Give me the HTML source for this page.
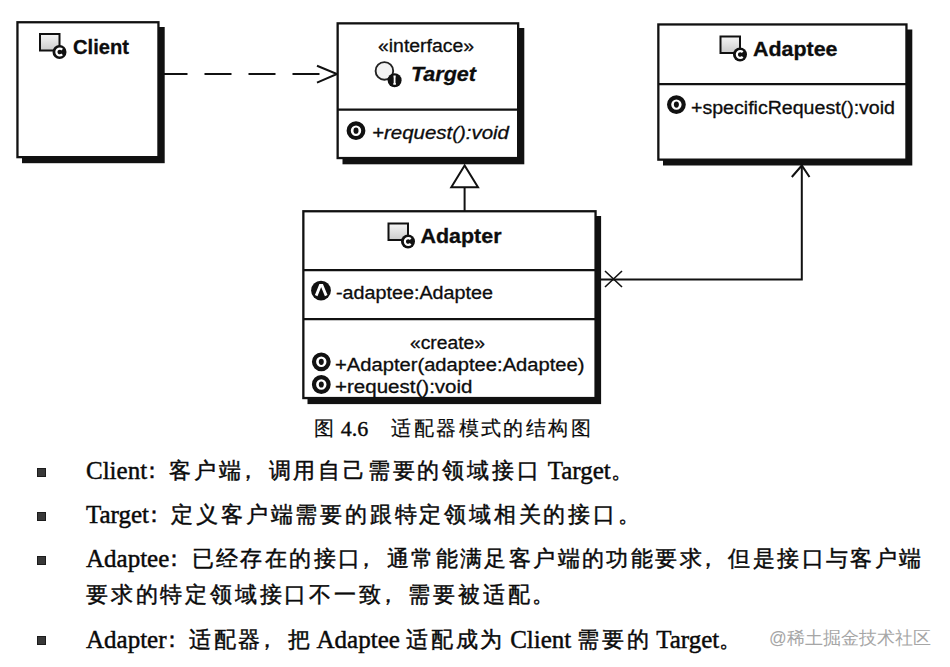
<!DOCTYPE html>
<html>
<head>
<meta charset="utf-8">
<title>Adapter pattern structure</title>
<style>
html,body{margin:0;padding:0;background:#fff;}
body{position:relative;width:950px;height:667px;overflow:hidden;}
svg.uml{position:absolute;left:0;top:0;}
svg.uml text{font-family:"Liberation Sans",sans-serif;fill:#0d0d0d;stroke:#0d0d0d;stroke-width:0.3px;}
.bt{font-weight:bold;font-size:20px;}
.rg{font-size:18px;}
.tx{position:absolute;font-family:"Liberation Serif",serif;color:#0a0a0a;white-space:nowrap;line-height:1;-webkit-text-stroke:0.45px #0a0a0a;}
.cap{font-size:21px;-webkit-text-stroke:0.2px #0a0a0a;}
.n3{font-size:22px;position:relative;top:1px;left:1.5px;-webkit-text-stroke:0.4px #0a0a0a;}
.li{font-size:25px;}
.c{font-size:22px;letter-spacing:2.8px;position:relative;top:-1px;}
.l3{letter-spacing:2.4px;}
.c2{font-size:20px;letter-spacing:2.45px;}
.c3{font-size:20px;}
.sp2{display:inline-block;width:24.5px;}
.pl{position:relative;left:-6px;margin-right:-2.5px;}
.pc{position:relative;left:-7px;}
.bul{position:absolute;width:9px;height:9px;background:#383838;box-shadow:inset 0 0 0 1px #1c1c1c;}
.wm{position:absolute;font-family:"Liberation Sans",sans-serif;color:#a6a6a6;font-size:17.5px;white-space:nowrap;line-height:1;}
</style>
</head>
<body>
<svg class="uml" width="950" height="420" viewBox="0 0 950 420">
  <defs>
    <linearGradient id="gfill" x1="0" y1="0" x2="0" y2="1">
      <stop offset="0" stop-color="#f6f6f6"/>
      <stop offset="1" stop-color="#cbcbcb"/>
    </linearGradient>
    <g id="classicon">
      <rect x="1" y="1" width="19.5" height="16.5" fill="url(#gfill)" stroke="#111" stroke-width="2"/>
      <circle cx="20.5" cy="19" r="7" fill="#111"/>
      <path d="M23.2 16.6 A3.4 3.4 0 1 0 23.2 21.4" fill="none" stroke="#fff" stroke-width="2.2"/>
    </g>
    <g id="methicon">
      <circle cx="0" cy="0" r="7.3" fill="#fff" stroke="#111" stroke-width="4.2"/>
      <ellipse cx="0" cy="0" rx="2.5" ry="3.1" fill="#111"/>
    </g>
  </defs>

  <!-- Client -->
  <rect x="22" y="27" width="142.7" height="136.2" fill="#111"/>
  <rect x="17.45" y="22.25" width="141" height="134.9" fill="#fff" stroke="#111" stroke-width="2.3"/>
  <use href="#classicon" x="39" y="33"/>
  <text class="bt" x="73" y="54.2" textLength="56" lengthAdjust="spacingAndGlyphs">Client</text>

  <!-- dashed dependency -->
  <line x1="159" y1="74" x2="336" y2="74" stroke="#111" stroke-width="2.2" stroke-dasharray="27 17" stroke-dashoffset="-1.5"/>
  <polyline points="317,65.8 337,74 317,82.6" fill="none" stroke="#111" stroke-width="2"/>

  <!-- Target -->
  <rect x="342.5" y="28" width="181.8" height="136.3" fill="#111"/>
  <rect x="337.65" y="23.35" width="180.5" height="134.7" fill="#fff" stroke="#111" stroke-width="2.3"/>
  <line x1="337.65" y1="109.6" x2="518.15" y2="109.6" stroke="#111" stroke-width="2.3"/>
  <text class="rg" x="378" y="52.4" textLength="96" lengthAdjust="spacingAndGlyphs">«interface»</text>
  <circle cx="384.4" cy="70.9" r="8.8" fill="#f3f3f3" stroke="#222" stroke-width="1.9"/>
  <circle cx="394.6" cy="80.2" r="7" fill="#111"/>
  <path d="M393.5 76.5 h2.2 M394.6 76.5 v7.4 M393.3 83.9 h2.6" stroke="#fff" stroke-width="1.8" fill="none"/>
  <text class="bt" x="411" y="81.3" font-style="italic" textLength="65" lengthAdjust="spacingAndGlyphs">Target</text>
  <use href="#methicon" x="356" y="130.7"/>
  <text class="rg" x="372" y="139.3" font-style="italic" textLength="137" lengthAdjust="spacingAndGlyphs">+request():void</text>

  <!-- inheritance -->
  <line x1="464.6" y1="188" x2="464.6" y2="211" stroke="#111" stroke-width="2"/>
  <polygon points="464.6,165.5 451.3,187.3 478,187.3" fill="#fff" stroke="#111" stroke-width="2"/>

  <!-- Adaptee -->
  <rect x="663" y="29.5" width="249.3" height="136" fill="#111"/>
  <rect x="658.35" y="24.45" width="248.1" height="135.2" fill="#fff" stroke="#111" stroke-width="2.3"/>
  <line x1="658.35" y1="84.2" x2="906.45" y2="84.2" stroke="#111" stroke-width="2.3"/>
  <use href="#classicon" x="719.5" y="35.5"/>
  <text class="bt" x="753" y="56" textLength="84.5" lengthAdjust="spacingAndGlyphs">Adaptee</text>
  <use href="#methicon" x="676.4" y="104.6"/>
  <text class="rg" x="691" y="113.5" textLength="204" lengthAdjust="spacingAndGlyphs">+specificRequest():void</text>

  <!-- Adapter -->
  <rect x="307.5" y="216" width="293.6" height="188.1" fill="#111"/>
  <rect x="303.35" y="211.25" width="292.2" height="186.8" fill="#fff" stroke="#111" stroke-width="2.3"/>
  <line x1="303.35" y1="270.2" x2="595.55" y2="270.2" stroke="#111" stroke-width="2.3"/>
  <line x1="303.35" y1="319.1" x2="595.55" y2="319.1" stroke="#111" stroke-width="2.3"/>
  <use href="#classicon" x="387.5" y="222.5"/>
  <text class="bt" x="420.5" y="242.6" textLength="81" lengthAdjust="spacingAndGlyphs">Adapter</text>
  <circle cx="321" cy="290.6" r="9.9" fill="#111"/>
  <path d="M316.2 295.6 L320.3 285.5 L322 285.5 L326.2 295.6" fill="none" stroke="#fff" stroke-width="2.8"/>
  <text class="rg" x="336" y="299.1" textLength="157" lengthAdjust="spacingAndGlyphs">-adaptee:Adaptee</text>
  <text class="rg" x="410" y="348.8" textLength="75" lengthAdjust="spacingAndGlyphs">«create»</text>
  <use href="#methicon" x="321.3" y="361.8"/>
  <text class="rg" x="335" y="371" textLength="249.5" lengthAdjust="spacingAndGlyphs">+Adapter(adaptee:Adaptee)</text>
  <use href="#methicon" x="321.3" y="384.5"/>
  <text class="rg" x="335" y="393.4" textLength="137.5" lengthAdjust="spacingAndGlyphs">+request():void</text>

  <!-- association -->
  <polyline points="601,279.5 801.8,279.5 801.8,165" fill="none" stroke="#111" stroke-width="2"/>
  <polyline points="791.8,177 801.8,165.5 809.5,177" fill="none" stroke="#111" stroke-width="2"/>
  <path d="M605 271 L622 287 M605 287 L622 271" stroke="#111" stroke-width="1.6"/>
</svg>

<div class="tx cap" style="left:314px;top:417px;"><span class="c3">图</span> <span class="n3">4.6</span><span class="sp2"></span><span class="c2">适配器模式的结构图</span></div>

<div class="bul" style="left:36.6px;top:467.7px;"></div>
<div class="tx li" style="left:86px;top:458px;">Client<span class="c pl">：</span><span class="c">客户端<span class="pc">，</span>调用自己需要的领域接口</span> Target<span class="c">。</span></div>

<div class="bul" style="left:36.6px;top:512px;"></div>
<div class="tx li" style="left:86px;top:502px;">Target<span class="c pl">：</span><span class="c">定义客户端需要的跟特定领域相关的接口。</span></div>

<div class="bul" style="left:36.8px;top:556px;"></div>
<div class="tx li" style="left:86px;top:546px;">Adaptee<span class="c pl">：</span><span class="c l3">已经存在的接口<span class="pc">，</span>通常能满足客户端的功能要求<span class="pc">，</span>但是接口与客户端</span></div>
<div class="tx li" style="left:86px;top:581.5px;"><span class="c">要求的特定领域接口不一致<span class="pc">，</span>需要被适配。</span></div>

<div class="bul" style="left:36.5px;top:636.2px;"></div>
<div class="tx li" style="left:86px;top:627px;">Adapter<span class="c pl">：</span><span class="c">适配器<span class="pc">，</span>把</span><span style="margin-left:-2.6px"> Adaptee</span> <span class="c">适配成为</span><span style="margin-left:-1.4px"> Client</span><span style="margin-left:-0.5px"> </span><span class="c">需要的</span><span style="margin-left:-1.5px"> Target</span><span class="c">。</span></div>

<div class="wm" style="left:769px;top:629.5px;">@稀土掘金技术社区</div>
</body>
</html>
